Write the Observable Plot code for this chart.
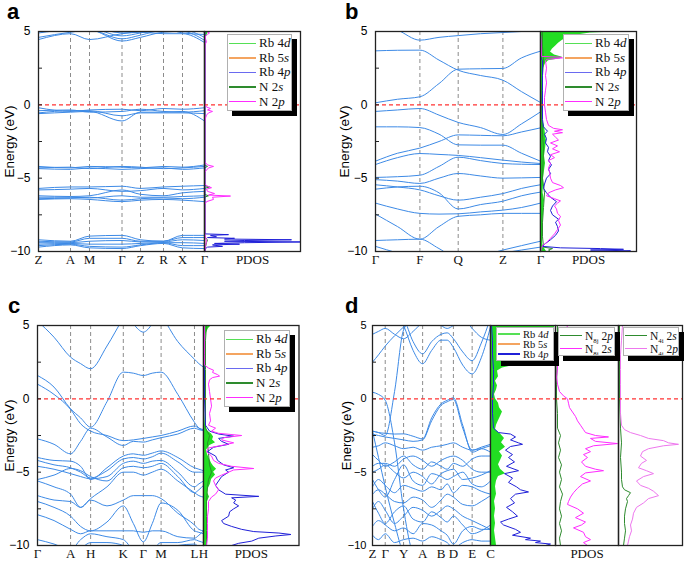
<!DOCTYPE html>
<html><head><meta charset="utf-8">
<script src="https://cdn.jsdelivr.net/npm/d3@7"></script>
<script src="https://cdn.jsdelivr.net/npm/@observablehq/plot@0.6"></script>
<style>
body{margin:0;background:#fff;}
#root{position:relative;width:685px;height:561px;overflow:hidden;background:#fff;font-family:"Liberation Sans",Arial,sans-serif;}
.lg{position:absolute;background:#fff;border:1px solid #b0b0b0;box-shadow:5px 5px 0 #000;font-family:"Liberation Serif","Times New Roman",serif;color:#111;box-sizing:border-box;padding:1px 1px;overflow:hidden;}
.row{display:flex;align-items:center;white-space:nowrap;}
.sw{display:inline-block;height:1.6px;flex:none;}
.letter{position:absolute;font-weight:bold;font-size:22px;line-height:1;font-family:"Liberation Sans",Arial,sans-serif;}
sub{font-size:60%;vertical-align:-3px;line-height:0;}
</style></head><body><div id="root"></div><script>
// ---------------- DATA ----------------
// Panel a
const kA = [0, 32, 51, 83.5, 102, 125, 144, 166];
const symA = [0, 32, 51, 83.5, 102, 125, 144, 166];
const labA = ["Z", "A", "M", "Γ", "Z", "R", "X", "Γ"];
const bandsA = [
  [4.45, 4.85, 4.45, 4.85, 4.95, 4.85, 4.85, 4.25],
  [4.6, 4.95, 5.1, 4.35, 4.6, 4.95, 5.0, 4.4],
  [4.9, 5.1, 5.1, 4.5, 4.75, 5.1, 5.1, 4.6],
  [5.1, 5.2, 5.2, 4.7, 4.9, 5.2, 4.9, 4.8],
  [5.2, 5.3, 5.3, 4.9, 5.0, 5.3, 5.3, 4.95],
  [-0.2, -0.45, -0.35, -0.3, -0.4, -0.25, -0.3, -0.2],
  [-0.4, -0.35, -0.5, -0.45, -0.3, -0.45, -0.5, -0.4],
  [-0.6, -0.5, -0.45, -1.1, -0.5, -0.5, -0.45, -1.1],
  [-0.55, -0.4, -0.4, -0.75, -0.55, -0.55, -0.55, -0.6],
  [-4.2, -4.3, -4.2, -4.25, -4.3, -4.2, -4.25, -4.1],
  [-4.3, -4.25, -4.35, -4.2, -4.25, -4.35, -4.3, -4.2],
  [-4.35, -4.4, -4.3, -4.4, -4.35, -4.3, -4.4, -4.3],
  [-5.7, -5.6, -5.6, -5.55, -5.7, -5.6, -5.55, -5.5],
  [-5.8, -5.75, -5.7, -5.9, -5.85, -5.7, -5.8, -5.7],
  [-6.2, -6.25, -6.2, -5.8, -6.1, -6.2, -6.0, -5.9],
  [-6.3, -6.3, -6.35, -6.2, -6.3, -6.3, -6.25, -6.2],
  [-6.4, -6.35, -6.3, -6.5, -6.4, -6.35, -6.4, -6.3],
  [-6.45, -6.4, -6.45, -6.6, -6.5, -6.45, -6.5, -6.6],
  [-9.2, -9.3, -8.95, -8.9, -9.2, -9.3, -8.9, -8.9],
  [-9.3, -9.35, -9.1, -9.1, -9.3, -9.3, -9.05, -9.05],
  [-9.4, -9.4, -9.3, -9.25, -9.35, -9.35, -9.2, -9.25],
  [-9.5, -9.45, -9.5, -9.5, -9.45, -9.4, -9.4, -9.45],
  [-9.6, -9.5, -9.65, -9.7, -9.55, -9.4, -9.6, -9.6],
  [-9.7, -9.55, -9.75, -9.8, -9.6, -9.45, -9.75, -9.8]
];
const aN2p = [[5,2],[4.9,5],[4.8,3],[4.7,1],[4.5,1],[4.3,2],[4.1,0.5],[3.5,0.3],[0.2,0.3],[0,0.5],[-0.15,2],[-0.25,6],[-0.35,3],[-0.45,8],[-0.55,4],[-0.7,2],[-0.9,1],[-1.2,0.3],[-3.9,0.3],[-4.1,3],[-4.2,9],[-4.3,4],[-4.45,2],[-4.6,0.3],[-5.4,0.3],[-5.55,3],[-5.65,7],[-5.75,2],[-5.9,3],[-6.05,10],[-6.15,4],[-6.22,26],[-6.3,8],[-6.45,9],[-6.6,2],[-6.8,0.3],[-8.8,0.3],[-9.0,1],[-9.3,2],[-9.6,1],[-10,0.3]];
const aRb4p = [[5,0.5],[-8.8,0.5],[-8.85,24],[-8.9,6],[-9.0,12],[-9.05,3],[-9.1,30],[-9.15,20],[-9.2,87],[-9.25,40],[-9.3,20],[-9.35,96],[-9.4,40],[-9.45,10],[-9.5,35],[-9.55,8],[-9.65,18],[-9.7,3],[-9.8,1],[-10,0.5]];
const aN2s = [[5,0],[-4.1,0],[-4.2,3],[-4.3,0],[-5.5,0],[-5.6,5],[-5.7,0],[-6.1,0],[-6.2,4],[-6.3,0],[-9.0,0],[-9.2,3],[-9.4,2],[-10,0]];
const aRb4d = [[5,4],[4.8,3],[4.5,1],[4.2,0.5],[3,0],[-10,0]];
const aRb5s = [[5,0.3],[-10,0.3]];

// Panel b
const kB = [0, 22, 44.4, 63.5, 82.7, 105, 127.4, 146, 165];
const symB = [0, 44.4, 82.7, 127.4, 165];
const labB = ["Γ", "F", "Q", "Z", "Γ"];
const bandsB = [
  [5.6, 5.1, 4.41, 4.6, 4.72, 4.85, 4.93, 5.0, 5.05],
  [3.68, 3.72, 3.73, 3.05, 2.36, 2.0, 1.68, 0.9, 0.16],
  [0.14, 0.38, 0.55, 1.45, 2.43, 2.46, 2.48, 3.2, 3.66],
  [-0.45, -0.35, -0.25, -0.7, -1.2, -1.55, -2.02, -1.3, -0.48],
  [-1.5, -1.5, -1.55, -2.0, -2.73, -2.75, -2.75, -3.3, -3.84],
  [-3.84, -3.3, -2.95, -2.5, -2.05, -2.08, -2.11, -1.85, -1.57],
  [-4.07, -3.6, -3.32, -3.38, -3.45, -3.6, -3.77, -3.9, -4.0],
  [-4.95, -4.9, -4.8, -4.2, -3.57, -3.8, -4.0, -4.05, -4.07],
  [-5.1, -5.2, -5.36, -5.0, -4.68, -4.85, -5.0, -4.98, -4.95],
  [-5.45, -5.6, -5.8, -6.2, -6.5, -6.3, -6.05, -5.7, -5.45],
  [-5.75, -5.6, -5.55, -6.0, -7.1, -6.8, -6.57, -6.2, -5.95],
  [-6.7, -7.1, -7.4, -7.45, -7.43, -7.3, -7.18, -7.0, -6.7],
  [-7.45, -8.3, -9.16, -8.3, -7.6, -7.5, -7.4, -7.4, -7.4],
  [-9.25, -9.2, -9.16, -9.8, -10.5, -10.3, -9.9, -9.6, -9.3],
  [-9.65, -10.1, -10.5, -10.5, -10.5, -10.3, -10.1, -9.9, -9.7]
];
const bRb4d = [[5,88],[4.95,70],[4.9,50],[4.8,40],[4.7,32],[4.6,28],[4.5,25],[4.4,22],[4.2,18],[4.0,15],[3.8,12],[3.6,10],[3.4,14],[3.25,22],[3.15,20],[3.0,8],[2.8,5],[2.5,3],[2,2.5],[1,2],[0,1.5],[-1,2],[-1.5,4],[-2,5],[-2.5,6],[-3,5],[-3.5,4],[-4,5],[-4.5,4],[-5,3],[-5.5,3],[-6,2.5],[-6.5,4],[-7,3],[-7.5,3],[-8,2.5],[-8.5,2],[-9,2],[-9.5,2],[-9.8,4],[-10,6]];
const bN2p = [[5,0],[4.8,0],[4.5,0.5],[3.3,1],[3.25,20],[3.2,22],[3.1,6],[3.0,5],[2.5,6],[2,5],[1.5,6],[1,5],[0.5,4],[0,4],[-0.5,5],[-1,6],[-1.4,8],[-1.6,13],[-1.7,22],[-1.8,14],[-1.9,22],[-2.0,12],[-2.2,15],[-2.4,18],[-2.6,10],[-2.8,17],[-3.0,12],[-3.2,19],[-3.4,10],[-3.6,14],[-3.8,8],[-4.0,10],[-4.3,8],[-4.6,9],[-5.0,10],[-5.3,12],[-5.5,20],[-5.65,23],[-5.8,15],[-6.0,8],[-6.2,6],[-6.4,14],[-6.55,20],[-6.7,17],[-6.9,14],[-7.1,16],[-7.4,17],[-7.6,20],[-7.9,18],[-8.2,20],[-8.5,17],[-8.8,14],[-9.1,10],[-9.4,6],[-9.6,2],[-9.8,1],[-10,0]];
const bRb4p = [[5,0],[3.2,0.5],[3.0,2],[2,2],[1,2],[0,2],[-1,2],[-1.5,3],[-1.8,7],[-2.0,4],[-2.3,6],[-2.6,5],[-2.9,8],[-3.2,7],[-3.5,10],[-3.8,8],[-4.1,11],[-4.4,8],[-4.7,10],[-5.0,6],[-5.4,4],[-5.7,3],[-6.0,6],[-6.3,10],[-6.6,16],[-6.9,12],[-7.2,10],[-7.5,12],[-7.8,18],[-8.0,15],[-8.3,17],[-8.6,18],[-8.9,15],[-9.2,10],[-9.5,4],[-9.65,2],[-9.75,20],[-9.8,60],[-9.85,83],[-9.9,50],[-9.95,90],[-10,85]];
const bN2s = [[5,2],[4,2],[3,3],[2,2],[0,1],[-2,2],[-3,3],[-5,2],[-6,4],[-7,3],[-8,2],[-9,2],[-9.7,3],[-9.8,12],[-9.9,8],[-10,10]];

// Panel c
const kC = [0, 16.5, 33, 43, 53, 69.3, 85.6, 95.6, 105.6, 114.5, 123.3, 140, 156.6, 161, 165.6];
const symC = [0, 33, 53, 85.6, 105.6, 123.3, 156.6, 165.6];
const labC = ["Γ", "A", "H", "K", "Γ", "M", "L", "H"];
const bandsC = [
  [5.3, 4.2, 2.84, 2.4, 2.05, 3.6, 5.5, 6.5, 6.5, 6.5, 6.5, 6.5, 6.5, 6.5, 6.5],
  [6, 6, 6, 6, 6, 6, 6, 5.1, 4.55, 5.1, 6, 6, 6, 6, 6],
  [6, 6, 6, 6, 6, 6, 6, 6, 6, 6, 5.6, 3.9, 2.7, 2.4, 2.16],
  [1.59, 0.8, -0.68, -1.3, -1.93, -0.2, 1.82, 1.75, 1.59, 1.75, 1.82, 0.3, -1.6, -2.0, -2.16],
  [-2.73, -3.1, -3.75, -2.9, -2.0, -2.6, -3.18, -2.9, -2.95, -2.8, -2.65, -2.4, -2.0, -2.1, -2.16],
  [1.0, 0.3, -0.72, -1.7, -2.2, -2.5, -2.85, -2.8, -2.7, -2.6, -2.5, -2.2, -1.85, -2.0, -2.1],
  [-4.0, -4.2, -4.25, -4.6, -5.5, -4.7, -3.9, -3.75, -3.85, -3.7, -3.55, -4.0, -4.7, -4.8, -4.9],
  [-4.2, -4.5, -4.7, -5.0, -5.4, -4.9, -4.1, -4.0, -4.1, -3.95, -3.7, -4.3, -5.0, -5.0, -5.0],
  [-4.6, -4.8, -5.1, -5.3, -5.45, -5.3, -4.4, -4.25, -4.4, -4.25, -4.2, -5.0, -6.0, -5.8, -5.6],
  [-5.5, -5.2, -4.75, -4.9, -5.3, -5.6, -4.7, -4.6, -4.7, -4.6, -4.4, -5.3, -6.4, -6.2, -5.9],
  [-5.6, -6.0, -6.5, -7.4, -6.8, -6.0, -5.0, -5.0, -5.2, -5.0, -4.8, -5.6, -6.4, -6.6, -6.7],
  [-6.6, -6.9, -7.0, -7.4, -6.9, -7.3, -6.9, -6.6, -6.6, -6.6, -6.8, -7.8, -8.6, -8.9, -9.0],
  [-7.0, -7.4, -8.0, -8.7, -9.0, -8.4, -7.3, -8.5, -9.75, -8.5, -7.1, -7.6, -9.0, -9.1, -9.2],
  [-7.9, -8.3, -8.9, -9.2, -9.0, -9.0, -9.0, -9.0, -9.1, -9.0, -9.0, -9.4, -9.5, -9.3, -9.0],
  [-9.6, -9.9, -10.3, -9.6, -9.2, -9.4, -9.6, -10.3, -10.5, -10.3, -9.8, -9.8, -9.6, -9.7, -9.8],
  [-10.5, -10.5, -10.5, -10.2, -9.8, -9.8, -10.0, -10.5, -10.6, -10.5, -10.2, -10.0, -9.9, -10.1, -10.3]
];
const cRb4d = [[5,8],[4.8,5],[4.5,3],[4,2],[3,2],[2,2],[1,1.5],[0,1],[-1,1],[-1.8,2],[-2.2,4],[-2.4,8],[-2.6,10],[-2.8,9],[-3.0,12],[-3.2,6],[-3.5,3],[-3.8,4],[-4.1,6],[-4.4,8],[-4.6,10],[-4.8,13],[-5.0,10],[-5.2,12],[-5.5,8],[-5.8,7],[-6.1,5],[-6.4,4],[-6.7,6],[-7.0,4],[-7.5,3],[-8,3],[-8.5,3],[-9,3],[-9.3,5],[-9.6,3],[-10,3]];
const cN2p = [[5,1],[4,1],[3,1],[2.3,1],[2.1,5],[1.95,10],[1.8,9],[1.65,14],[1.55,16],[1.45,9],[1.3,6],[1.0,5],[0.5,6],[0,7],[-0.5,8],[-1.0,6],[-1.5,7],[-1.8,5],[-2.0,12],[-2.2,8],[-2.35,15],[-2.5,38],[-2.65,20],[-2.8,18],[-3.0,30],[-3.15,20],[-3.35,5],[-3.6,3],[-3.9,8],[-4.2,10],[-4.4,15],[-4.6,28],[-4.75,50],[-4.85,30],[-5.0,25],[-5.2,18],[-5.4,12],[-5.6,10],[-5.9,12],[-6.2,15],[-6.5,12],[-6.7,8],[-7.0,5],[-7.5,5],[-8,4],[-8.5,4],[-9,4],[-9.5,4],[-10,3]];
const cRb4p = [[5,0],[2.5,0],[2,1],[0,1],[-1.8,2],[-2.2,6],[-2.4,15],[-2.55,30],[-2.7,15],[-2.9,18],[-3.1,25],[-3.3,10],[-3.6,4],[-3.9,12],[-4.2,14],[-4.5,20],[-4.7,30],[-4.85,22],[-5.0,25],[-5.3,18],[-5.6,15],[-5.9,12],[-6.2,15],[-6.5,22],[-6.65,55],[-6.75,28],[-6.9,32],[-7.1,30],[-7.3,35],[-7.5,30],[-7.7,26],[-8.0,25],[-8.3,18],[-8.5,20],[-8.7,28],[-8.9,38],[-9.05,50],[-9.15,75],[-9.25,87],[-9.35,72],[-9.5,55],[-9.7,48],[-9.85,35],[-10,28]];
const cN2s = [[5,3],[4,2],[2,2],[0,2],[-2,2],[-2.5,6],[-2.8,5],[-3.0,4],[-4.5,6],[-5,8],[-5.5,5],[-6,4],[-7,3],[-8,3],[-9,3],[-10,3]];

// Panel d
const kD = [0, 6, 12.7, 22, 31, 40.5, 50, 59, 68.4, 74.5, 80.7, 90, 99.4, 108.5, 117.7];
const symD = [0, 12.7, 31, 50, 68.4, 80.7, 99.4, 117.7];
const labD = ["Z", "Γ", "Y", "A", "B", "D", "E", "C"];
const bandsD = [
  [0.45, 0.3, -0.1, -3.0, -7.5, -10.5, -11, -11, -11, -11, -11, -11, -11, -11, -11],
  [-2.2, -2.3, -2.5, 0.5, 4.7, 5.5, 6, 6, 6, 6, 6, 6, 6, 6, 6],
  [-2.2, -2.3, -2.35, -2.4, -2.39, -2.55, -2.73, -1.3, -0.34, -0.1, 0.07, -1.8, -3.64, -3.4, -3.2],
  [-2.4, -2.5, -2.6, -2.7, -2.8, -2.9, -2.8, -1.5, -0.45, -0.2, -0.05, -2.0, -3.5, -3.3, -3.1],
  [6, 6, 6, 6, 5.0, 3.3, 2.39, 3.3, 4.0, 4.0, 3.5, 2.3, 1.7, 2.8, 4.9],
  [6, 6, 6, 6, 5.5, 3.9, 3.07, 3.9, 4.4, 4.5, 4.1, 3.2, 2.6, 3.8, 5.5],
  [4.4, 4.6, 4.8, 4.4, 4.1, 4.6, 5.2, 5.5, 5.0, 4.8, 5.0, 5.5, 4.8, 4.2, 4.0],
  [2.5, 3.0, 3.6, 4.3, 4.9, 5.5, 6, 6, 6, 6, 6, 6, 6, 6, 6],
  [-3.3, -3.2, -3.0, -3.2, -3.4, -3.3, -3.5, -3.3, -3.2, -3.1, -3.0, -3.3, -3.5, -3.4, -3.64],
  [-3.8, -4.2, -4.6, -4.3, -3.9, -4.5, -4.8, -4.3, -4.6, -4.8, -4.4, -4.6, -4.1, -3.9, -3.9],
  [-4.6, -4.4, -4.4, -4.6, -4.1, -3.9, -4.2, -4.6, -4.2, -4.0, -3.9, -4.2, -4.8, -5.0, -5.0],
  [-5.0, -4.8, -4.5, -5.0, -5.4, -5.0, -5.3, -5.8, -5.1, -4.9, -4.8, -5.5, -5.4, -5.2, -4.9],
  [-5.5, -6.2, -6.7, -5.5, -4.5, -5.6, -5.9, -5.1, -5.3, -5.5, -5.3, -5.0, -5.8, -6.0, -5.6],
  [-6.0, -5.5, -5.9, -6.4, -5.9, -6.1, -6.3, -6.0, -6.2, -5.8, -6.4, -5.9, -6.0, -6.3, -6.5],
  [-6.5, -6.2, -6.5, -7.0, -7.1, -6.7, -6.9, -7.4, -6.9, -6.5, -6.7, -7.2, -7.3, -7.0, -6.6],
  [-7.0, -7.8, -8.5, -7.7, -7.3, -8.2, -8.4, -7.7, -8.1, -8.4, -8.0, -8.6, -9.2, -9.0, -8.6],
  [-7.5, -7.0, -7.6, -8.5, -8.0, -7.4, -7.6, -8.0, -7.6, -7.3, -7.5, -8.0, -8.3, -8.6, -8.9],
  [-8.7, -8.3, -8.6, -9.0, -8.8, -9.2, -8.5, -8.6, -9.0, -9.3, -9.9, -9.0, -8.7, -8.9, -8.9],
  [-9.3, -9.6, -9.2, -9.8, -9.6, -9.5, -9.7, -9.4, -9.6, -9.8, -10.2, -9.8, -9.6, -9.7, -9.7],
  [-2.2, -4.0, -6.0, -8.5, -10.5, -11, -11, -11, -11, -11, -11, -11, -11, -11, -11]
];
const dRb4d = [[5,64],[4.8,64],[4.7,35],[4.4,33],[4.0,33],[3.6,33],[3.2,34],[2.8,32],[2.5,30],[2.3,25],[2.1,12],[1.9,7],[1.5,8],[1.2,5],[0.9,7],[0.6,6],[0.3,4],[0,5],[-0.3,8],[-0.6,9],[-0.9,12],[-1.2,10],[-1.5,8],[-1.8,6],[-2.1,5],[-2.4,10],[-2.7,14],[-3.0,11],[-3.3,15],[-3.6,9],[-3.9,12],[-4.2,10],[-4.5,8],[-4.8,10],[-5.1,15],[-5.3,8],[-5.6,6],[-6.0,5],[-6.5,6],[-7,4],[-7.5,5],[-8,4],[-8.5,5],[-9,4],[-9.5,5],[-10,6]];
const dRb4p = [[5,1],[4,2],[3,2],[2,3],[1,3],[0,2],[-1,2],[-2,3],[-2.3,8],[-2.4,20],[-2.6,25],[-2.8,20],[-3.0,28],[-3.1,32],[-3.25,20],[-3.5,15],[-3.8,22],[-4.0,18],[-4.3,24],[-4.6,16],[-4.9,28],[-5.1,14],[-5.4,22],[-5.7,18],[-6.0,26],[-6.2,30],[-6.35,38],[-6.5,25],[-6.8,20],[-7.1,24],[-7.4,16],[-7.7,22],[-8.0,27],[-8.2,18],[-8.4,10],[-8.6,13],[-8.9,25],[-9.1,30],[-9.3,22],[-9.5,40],[-9.6,35],[-9.7,50],[-9.8,45],[-9.9,60],[-10,55]];
const dN8j2p = [[5,2],[3,2],[1,1],[0,1],[-1,2],[-2,2],[-2.5,5],[-3,3],[-3.5,5],[-4,3],[-4.5,6],[-5,4],[-5.5,6],[-6,4],[-6.5,7],[-7,5],[-7.5,4],[-8,6],[-8.5,4],[-9,6],[-9.5,4],[-10,5]];
const dN8j2s = [[5,12],[4.5,10],[4,8],[3.5,5],[3,3],[2.5,2],[2,2],[1.5,1],[1,2],[0.5,4],[0.2,8],[0,12],[-0.3,13],[-0.6,14],[-0.9,17],[-1.2,20],[-1.5,22],[-1.8,25],[-2.1,28],[-2.3,30],[-2.5,40],[-2.6,53],[-2.7,35],[-2.9,40],[-3.05,62],[-3.2,38],[-3.4,30],[-3.6,35],[-3.8,28],[-4.0,32],[-4.3,26],[-4.6,30],[-4.8,40],[-4.9,48],[-5.05,30],[-5.3,25],[-5.6,35],[-5.8,27],[-6.1,22],[-6.4,18],[-6.7,15],[-7.0,13],[-7.2,12],[-7.5,22],[-7.8,28],[-8.1,20],[-8.4,30],[-8.6,26],[-8.8,18],[-9.1,28],[-9.4,30],[-9.6,35],[-9.8,28],[-10,32]];
const dN4i2s = [[5,1],[3,1],[0,1],[-2,2],[-3,3],[-4,2],[-5,3],[-5.5,3],[-6,4],[-6.2,6],[-6.4,12],[-6.6,10],[-6.8,8],[-7,9],[-7.5,7],[-8,6],[-8.5,6],[-9,7],[-9.5,6],[-10,5]];
const dN4i2p = [[5,4],[4,3],[3,2],[2,2],[1,2],[0,2],[-1,2],[-1.8,3],[-2.1,6],[-2.3,12],[-2.5,22],[-2.7,30],[-2.85,45],[-3.0,50],[-3.1,60],[-3.2,45],[-3.4,30],[-3.6,24],[-3.9,22],[-4.2,28],[-4.4,23],[-4.7,20],[-4.9,28],[-5.1,35],[-5.3,25],[-5.6,18],[-5.9,22],[-6.1,30],[-6.3,35],[-6.6,40],[-6.8,30],[-7.1,25],[-7.4,18],[-7.8,15],[-8.2,14],[-8.6,12],[-9.0,13],[-9.4,11],[-9.7,10],[-10,9]];

const yMajor = [-10, -5, 0, 5];
const yMinor = [-10, -7.5, -5, -2.5, 0, 2.5, 5];
const yTitle = "Energy (eV)";
const legendMain = ["Rb 4<i>d</i>", "Rb 5<i>s</i>", "Rb 4<i>p</i>", "N 2<i>s</i>", "N 2<i>p</i>"];
const legendD1 = ["Rb 4<i>d</i>", "Rb 5<i>s</i>", "Rb 4<i>p</i>"];
const legendD2 = ["N<sub>8j</sub> 2<i>p</i>", "N<sub>8j</sub> 2<i>s</i>"];
const legendD3 = ["N<sub>4i</sub> 2<i>s</i>", "N<sub>4i</sub> 2<i>p</i>"];

// ---------------- DRAWING ----------------
const root = document.getElementById("root");
const SERIF = "'Liberation Serif','Times New Roman',serif";
const SANS = "'Liberation Sans',Arial,sans-serif";
const BAND = "#3d8ae6";
const COL = {rb4d: "#22dd22", rb5s: "#f4a460", rb4p: "#2020d8", n2s: "#2e8b2e", n2p: "#ff2cff", lrb4d: "#55e055", lrb4p: "#6a6af0", ln4ip: "#ee77ee"};
const MT = 8, MB = 26, ML = 44;

function place(el, left, top) {
  el.style.position = "absolute";
  el.style.left = left + "px";
  el.style.top = top + "px";
  root.appendChild(el);
}

function bandPlot(k, sym, labs, bands, fl, fr, ft, fb, lblOff, tickFs, tickPad, lblFs) {
  const data = bands.flatMap((b, i) => b.map((e, j) => ({k: k[j], e, b: i})));
  const symData = sym.map((s, i) => ({k: s, t: labs[i]}));
  const p = Plot.plot({
    width: fr - fl + ML, height: fb - ft + MT + MB,
    marginLeft: ML, marginRight: 0, marginTop: MT, marginBottom: MB,
    style: {overflow: "visible", background: "transparent", fontFamily: SANS},
    x: {domain: [0, k[k.length - 1]], axis: null},
    y: {domain: [-10, 5]},
    marks: [
      Plot.ruleX(sym.slice(1, -1), {stroke: "#8c8c8c", strokeDasharray: "4,3", strokeWidth: 1}),
      Plot.line(data, {x: "k", y: "e", z: "b", stroke: BAND, strokeWidth: 1, curve: "monotone-x", clip: true}),
      Plot.ruleY([0], {stroke: "#ff3333", strokeDasharray: "4,3", strokeWidth: 1.2}),
      Plot.frame({stroke: "#222", strokeWidth: 1.3}),
      Plot.axisY({ticks: yMinor, tickSize: -4, tickFormat: () => "", label: null, stroke: "#222"}),
      Plot.axisY({ticks: yMajor, tickSize: 0, tickPadding: tickPad, fontSize: tickFs, label: null}),
      Plot.axisY({ticks: [], tickSize: 0, fontSize: lblFs, label: yTitle, labelAnchor: "center", labelArrow: "none", labelOffset: lblOff}),
      Plot.text(symData, {x: "k", text: "t", frameAnchor: "bottom", dy: 3, lineAnchor: "top", fontSize: 13, fontFamily: SERIF, fill: "#111"})
    ]
  });
  place(p, fl - ML, ft - MT);
}

function pdosPlot(xmax, fl, fr, ft, fb, fills, lines, label) {
  const marks = [
    ...fills.map(f => Plot.areaX(f.d, {y: d => d[0], x: d => d[1], fill: f.c, curve: "linear", clip: true})),
    ...lines.map(l => Plot.line(l.d, {x: d => d[1], y: d => d[0], stroke: l.c, strokeWidth: 1, clip: true})),
    Plot.ruleY([0], {stroke: "#ff3333", strokeDasharray: "4,3", strokeWidth: 1.2}),
    Plot.frame({stroke: "#222", strokeWidth: 1.3})
  ];
  if (label) marks.push(Plot.text([label], {text: d => d, frameAnchor: "bottom", dy: 3, lineAnchor: "top", fontSize: 13, fontFamily: SERIF, fill: "#111"}));
  const p = Plot.plot({
    width: fr - fl, height: fb - ft + MT + MB,
    marginLeft: 0, marginRight: 0, marginTop: MT, marginBottom: MB,
    style: {overflow: "visible", background: "transparent"},
    x: {domain: [0, xmax], axis: null},
    y: {domain: [-10, 5], axis: null},
    marks
  });
  place(p, fl, ft - MT);
}

function legend(left, top, w, h, labels, colors, fs, rowH, lineW) {
  const div = document.createElement("div");
  div.className = "lg";
  div.style.width = w + "px"; div.style.height = h + "px";
  div.style.fontSize = fs + "px";
  labels.forEach((lab, i) => {
    const r = document.createElement("div");
    r.className = "row";
    r.style.height = rowH + "px";
    r.innerHTML = `<span class="sw" style="width:${lineW}px;background:${colors[i]};margin-right:${Math.round(fs * 0.25)}px"></span><span>${lab}</span>`;
    div.appendChild(r);
  });
  place(div, left, top);
}

function letter(t, x, y) {
  const d = document.createElement("div");
  d.className = "letter"; d.textContent = t;
  place(d, x, y);
}

const mainColors = [COL.lrb4d, COL.rb5s, COL.lrb4p, COL.n2s, COL.n2p];

// Panel a
bandPlot(kA, symA, labA, bandsA, 38, 204, 31, 251, 34, 12, 8, 13.5);
pdosPlot(96, 204, 300, 31, 251, [{d: aRb4d, c: COL.rb4d}],
  [{d: aRb5s, c: COL.rb5s}, {d: aN2s, c: COL.n2s}, {d: aRb4p, c: COL.rb4p}, {d: aN2p, c: COL.n2p}], "PDOS");
legend(227, 34, 65, 77, legendMain, mainColors, 13, 14.6, 27);
letter("a", 7, 1);

// Panel b
bandPlot(kB, symB, labB, bandsB, 375, 540, 31, 251, 36, 12, 8, 13.5);
pdosPlot(96, 540, 636, 31, 251, [{d: bRb4d, c: COL.rb4d}],
  [{d: bN2s, c: COL.n2s}, {d: bRb4p, c: COL.rb4p}, {d: bN2p, c: COL.n2p}], "PDOS");
legend(563, 34, 66, 77, legendMain, mainColors, 13, 14.6, 27);
letter("b", 345, 1);

// Panel c
bandPlot(kC, symC, labC, bandsC, 36.5, 202.5, 325, 545, 33, 12, 8, 13.5);
pdosPlot(95, 202.5, 298, 325, 545, [{d: cRb4d, c: COL.rb4d}],
  [{d: cN2s, c: COL.n2s}, {d: cRb4p, c: COL.rb4p}, {d: cN2p, c: COL.n2p}], "PDOS");
legend(224, 330, 66, 77, legendMain, mainColors, 13, 14.6, 27);
letter("c", 8, 295);

// Panel d
bandPlot(kD, symD, labD, bandsD, 372, 490, 325, 545, 31, 11, 6, 13);
pdosPlot(65, 490, 555, 325, 545, [{d: dRb4d, c: COL.rb4d}], [{d: dRb4p, c: COL.rb4p}], null);
pdosPlot(63, 555, 618, 325, 545, [], [{d: dN8j2p, c: COL.n2s}, {d: dN8j2s, c: COL.n2p}], "PDOS");
pdosPlot(64, 618, 682, 325, 545, [], [{d: dN4i2s, c: COL.n2s}, {d: dN4i2p, c: COL.ln4ip}], null);
legend(496, 327, 58, 34, legendD1, [COL.lrb4d, COL.rb5s, COL.rb4p], 10.5, 10, 22);
legend(558, 327, 57, 29, legendD2, [COL.n2s, COL.n2p], 11.5, 13, 22);
legend(623, 327, 56, 29, legendD3, [COL.n2s, COL.ln4ip], 11.5, 13, 22);
letter("d", 345, 295);
</script></body></html>
